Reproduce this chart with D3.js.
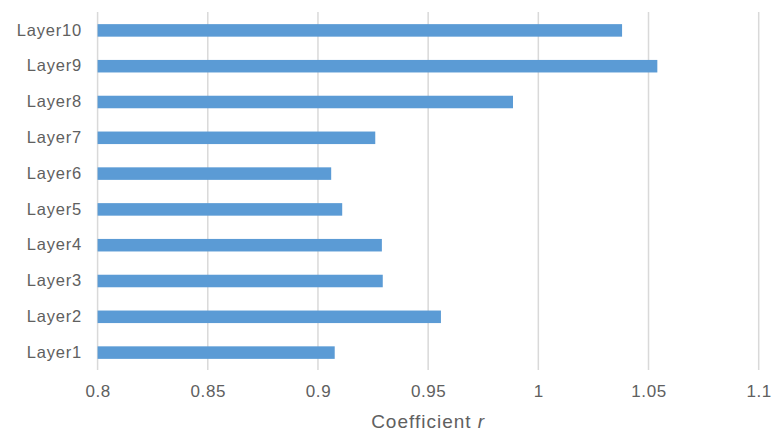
<!DOCTYPE html>
<html><head><meta charset="utf-8">
<script src="https://cdn.jsdelivr.net/npm/d3@7"></script>
<style>body{margin:0;background:#fff;} svg{display:block;}</style>
</head><body>
<script>
const categories = ["Layer1","Layer2","Layer3","Layer4","Layer5","Layer6","Layer7","Layer8","Layer9","Layer10"];
const values = [0.9076, 0.9558, 0.9294, 0.929, 0.911, 0.906, 0.926, 0.9885, 1.054, 1.038];
const xTicks = [0.8, 0.85, 0.9, 0.95, 1, 1.05, 1.1];
const xTitle = "Coefficient ";
const xTitleItalic = "r";

const W = 773, H = 435;
const svg = d3.select("body").append("svg").attr("width", W).attr("height", H);
const x = d3.scaleLinear().domain([0.8, 1.1]).range([97.6, 758.7]);
const y = d3.scaleBand().domain(categories.slice().reverse()).range([12.5, 370.5]).paddingInner(0.65).paddingOuter(0.325);

const font = "'Liberation Sans', Arial, sans-serif";
const textColor = "#606060";

svg.append("g").selectAll("line").data(xTicks).join("line")
  .attr("x1", d => x(d)).attr("x2", d => x(d))
  .attr("y1", 12).attr("y2", 370)
  .attr("stroke", "#D9D9D9").attr("stroke-width", 1.5);

svg.append("g").selectAll("rect").data(categories).join("rect")
  .attr("x", x(0.8)).attr("y", d => y(d))
  .attr("width", (d, i) => x(values[i]) - x(0.8))
  .attr("height", y.bandwidth())
  .attr("fill", "#5B9BD5");

const xAxis = svg.append("g").attr("transform", "translate(0,370)")
  .call(d3.axisBottom(x).tickValues(xTicks).tickSize(0).tickPadding(15).tickFormat(d => String(+d.toFixed(2))));
xAxis.select(".domain").remove();
xAxis.selectAll("text").attr("fill", textColor).style("font-family", font).style("font-size", "17px").style("letter-spacing", "0.6px").attr("dy", "0.71em");

const yAxis = svg.append("g").attr("transform", "translate(82,0)")
  .call(d3.axisLeft(y).tickSize(0).tickPadding(0));
yAxis.select(".domain").remove();
yAxis.selectAll("text").attr("fill", textColor).style("font-family", font).style("font-size", "16.5px").style("letter-spacing", "0.8px");

const t = svg.append("text").attr("x", x(0.95)).attr("y", 428).attr("text-anchor", "middle")
  .attr("fill", textColor).style("font-family", font).style("font-size", "19px").style("letter-spacing", "1px");
t.append("tspan").text(xTitle);
t.append("tspan").attr("font-style", "italic").text(xTitleItalic);
</script>
</body></html>
